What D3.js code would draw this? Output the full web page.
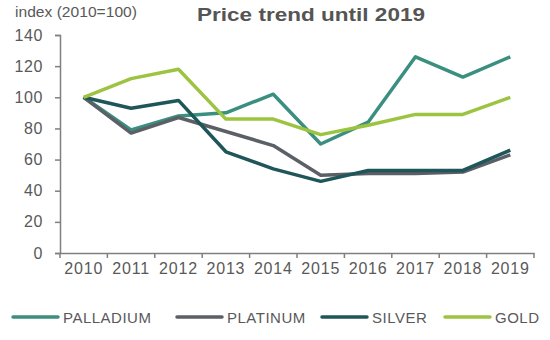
<!DOCTYPE html>
<html>
<head>
<meta charset="utf-8">
<script src="https://cdn.jsdelivr.net/npm/d3@7"></script>
<style>
  body { margin: 0; background: #fff; }
  #chart { width: 550px; height: 340px; }
  text { font-family: "Liberation Sans", Arial, sans-serif; }
</style>
</head>
<body>
<div id="chart"></div>
<script>
const years = ["2010", "2011", "2012", "2013", "2014", "2015", "2016", "2017", "2018", "2019"];
const palladium = [100, 79, 88, 90, 102, 70, 84, 126, 113, 126];
const platinum = [100, 77, 87, 78, 69, 50, 51, 51, 52, 63];
const silver = [100, 93, 98, 65, 54, 46, 53, 53, 53, 66];
const gold = [100, 112, 118, 86, 86, 76, 82, 89, 89, 100];
const yTicks = [0, 20, 40, 60, 80, 100, 120, 140];

const series = [
  { name: "PALLADIUM", values: palladium, color: "#3b8f80" },
  { name: "PLATINUM", values: platinum, color: "#5b6066" },
  { name: "SILVER", values: silver, color: "#1f5659" },
  { name: "GOLD", values: gold, color: "#9cc441" }
];

const width = 550, height = 340;
const margin = { top: 35, right: 16, bottom: 87, left: 60 };
const chartWidth = width - margin.left - margin.right;
const chartHeight = height - margin.top - margin.bottom;

const svg = d3.select("#chart").append("svg")
  .attr("width", width)
  .attr("height", height);

const g = svg.append("g")
  .attr("transform", `translate(${margin.left},${margin.top})`);

const x = d3.scaleBand().domain(years).range([0, chartWidth]);
const y = d3.scaleLinear().domain([0, 140]).range([chartHeight, 0]);

// y axis
const yAxis = g.append("g")
  .call(d3.axisLeft(y).tickValues(yTicks).tickSize(5).tickPadding(12));
yAxis.select(".domain").attr("stroke", "#7f7f7f").attr("stroke-width", 1.5);
yAxis.selectAll(".tick line").attr("stroke", "#7f7f7f").attr("stroke-width", 1.5);
yAxis.selectAll("text").attr("fill", "#595959")
  .style("font-size", "16px").style("letter-spacing", "0.6px");

// x axis, ticks sit on the band edges
const xAxis = g.append("g")
  .attr("transform", `translate(0,${chartHeight})`)
  .call(d3.axisBottom(x).tickSize(0).tickPadding(10));
xAxis.select(".domain").attr("stroke", "#7f7f7f").attr("stroke-width", 1.5);
xAxis.selectAll("text").attr("fill", "#595959")
  .style("font-size", "16px").style("letter-spacing", "0.8px");
xAxis.selectAll(".edge")
  .data(years.map(d => x(d)).concat([chartWidth]))
  .enter().append("line")
  .attr("x1", d => d).attr("x2", d => d)
  .attr("y1", 0).attr("y2", 5)
  .attr("stroke", "#7f7f7f").attr("stroke-width", 1.5);

// lines
const line = d3.line()
  .x((d, i) => x(years[i]) + x.bandwidth() / 2)
  .y(d => y(d));

series.forEach(s => {
  g.append("path")
    .datum(s.values)
    .attr("fill", "none")
    .attr("stroke", s.color)
    .attr("stroke-width", 3.5)
    .attr("stroke-linejoin", "round")
    .attr("d", line);
});

// title and unit label
svg.append("text")
  .attr("x", 197).attr("y", 21)
  .attr("fill", "#555")
  .attr("textLength", 228)
  .attr("lengthAdjust", "spacingAndGlyphs")
  .style("font-size", "18px")
  .style("font-weight", "bold")
  .text("Price trend until 2019");

svg.append("text")
  .attr("x", 15).attr("y", 17)
  .attr("fill", "#595959")
  .attr("textLength", 122)
  .attr("lengthAdjust", "spacingAndGlyphs")
  .style("font-size", "14px")
  .text("index (2010=100)");

// legend
const legendX = [13, 177, 322, 445];
series.forEach((s, i) => {
  const lg = svg.append("g").attr("transform", `translate(${legendX[i]},317)`);
  lg.append("line")
    .attr("x1", 0).attr("x2", 45)
    .attr("stroke", s.color)
    .attr("stroke-width", 3.5)
    .attr("stroke-linecap", "round");
  lg.append("text")
    .attr("x", 50).attr("y", 5.5)
    .attr("fill", "#595959")
    .style("font-size", "15px")
    .style("letter-spacing", "0.5px")
    .text(s.name);
});
</script>
</body>
</html>
